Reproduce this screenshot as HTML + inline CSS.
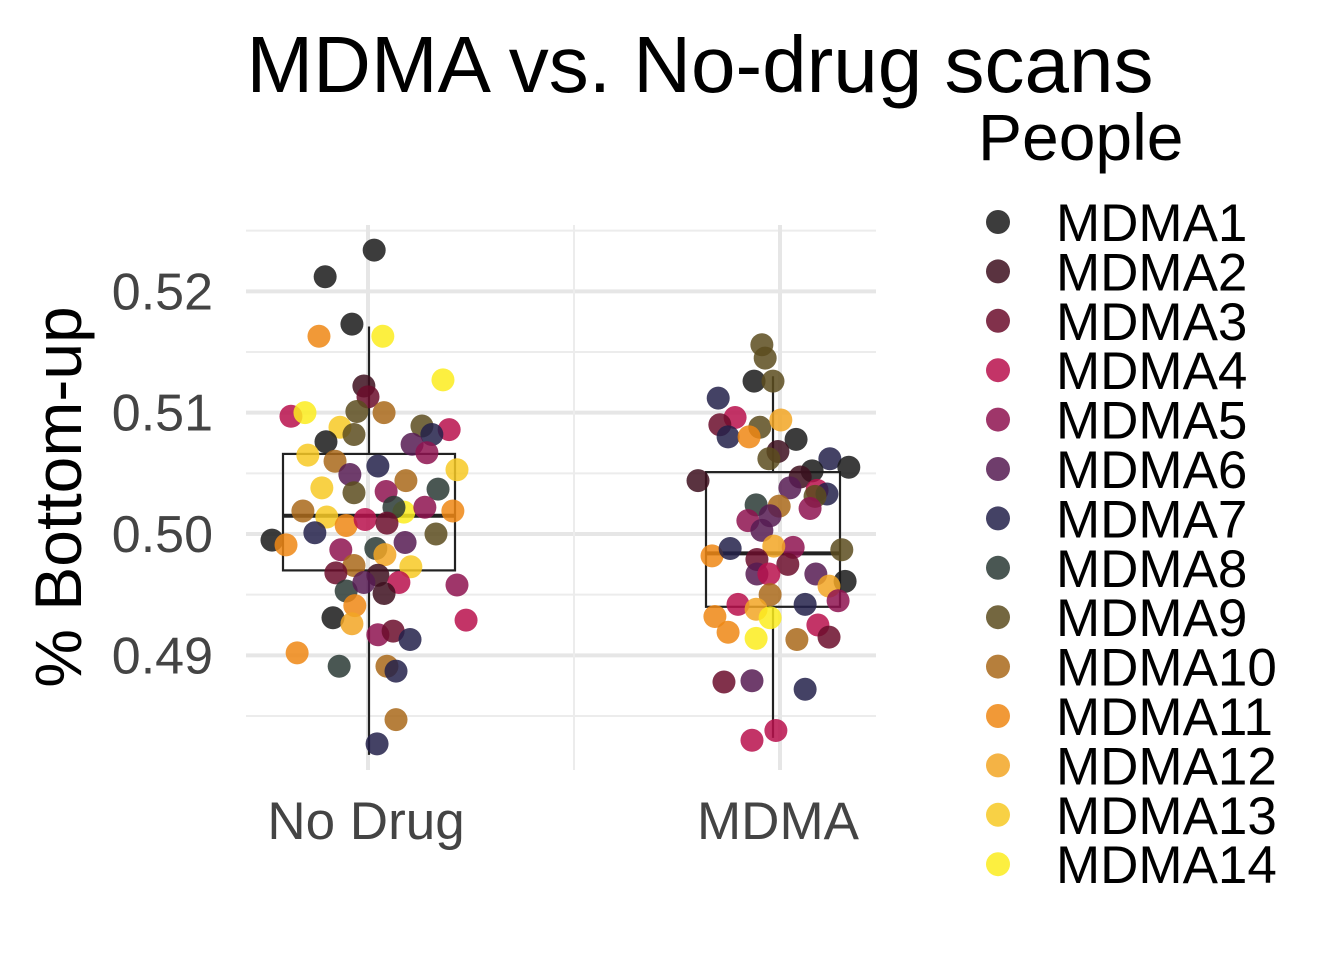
<!DOCTYPE html>
<html><head><meta charset="utf-8"><style>
html,body{margin:0;padding:0;background:#fff;}
svg{display:block;font-family:"Liberation Sans",Arial,sans-serif;}
</style></head><body>
<svg id="chart" width="1344" height="960" viewBox="0 0 1344 960">
<rect width="1344" height="960" fill="#fff"/>
<text x="700" y="92" font-size="80" text-anchor="middle" fill="#000">MDMA vs. No-drug scans</text>
<g id="grid"></g>
<g id="boxes"></g>
<g id="points"></g>
<g id="axes"></g>
<text transform="translate(81,497) rotate(-90)" font-size="66" text-anchor="middle" fill="#000">% Bottom-up</text>
<g id="legend">
<text x="978" y="160" font-size="66" fill="#000">People</text>
</g>
</svg>
<script>
const categories = ["No Drug","MDMA"];
const yTicks = [0.49,0.50,0.51,0.52];
const yTickLabels = ["0.49","0.50","0.51","0.52"];
const people = ["MDMA1","MDMA2","MDMA3","MDMA4","MDMA5","MDMA6","MDMA7","MDMA8","MDMA9","MDMA10","MDMA11","MDMA12","MDMA13","MDMA14"];
const personColors = ["#1a1a1a","#3d0f1f","#6b0d2c","#b8104c","#8e1350","#561b52","#23214a","#2a3a35","#5c4c1e","#a9691a","#ee8714","#f2a624","#f7c925","#fcec1f"];

const noDrugValues = [.5234,.5212,.5173,.5163,.5163,.5127,.5122,.5113,.5097,.5100,.5100,.5101,.5089,.5086,.5088,.5082,.5076,.5082,.5074,.5067,.5065,.5060,.5056,.5053,.5049,.5044,.5038,.5037,.5034,.5035,.5019,.5014,.5018,.5019,.5022,.5022,.5007,.5012,.5009,.5000,.4995,.4991,.5001,.4987,.4988,.4993,.4983,.4973,.4974,.4968,.4966,.4960,.4958,.4953,.4951,.4960,.4941,.4931,.4926,.4929,.4917,.4920,.4913,.4902,.4891,.4891,.4887,.4847,.4827];
const noDrugPeople = [1,1,1,11,14,14,2,3,4,14,10,9,9,4,13,7,1,9,6,5,13,10,7,13,6,10,13,8,9,5,10,13,14,11,5,8,11,4,3,9,1,11,7,5,8,6,12,13,10,3,2,4,5,8,2,6,11,1,12,4,5,3,7,11,10,8,7,10,7];
const noDrugJitter = [.015,-.104,-.039,-.119,.036,.182,-.010,0,-.187,-.153,.039,-.027,.131,.197,-.068,.155,-.102,-.034,.107,.143,-.146,-.080,.024,.216,-.044,.092,-.112,.170,-.034,.044,-.158,-.100,.087,.206,.138,.063,-.053,-.007,.046,.165,-.233,-.199,-.129,-.066,.019,.090,.041,.104,-.034,-.078,.024,.075,.216,-.053,.039,-.010,-.032,-.085,-.039,.238,.024,.061,.102,-.172,.046,-.070,.068,.068,.022];

const mdmaValues = [.5156,.5145,.5126,.5126,.5112,.5096,.5090,.5088,.5094,.5080,.5080,.5078,.5068,.5062,.5062,.5055,.5052,.5047,.5038,.5044,.5036,.5033,.5031,.5024,.5023,.5015,.5011,.5021,.5003,.4989,.4990,.4987,.4982,.4988,.4979,.4975,.4967,.4967,.4967,.4961,.4957,.4950,.4945,.4942,.4938,.4942,.4932,.4931,.4925,.4915,.4919,.4914,.4913,.4878,.4879,.4872,.4838,.4830];
const mdmaPeople = [9,9,1,9,7,4,3,9,12,7,11,1,2,9,7,1,1,2,6,2,4,7,9,8,10,6,5,5,6,5,12,9,11,7,3,3,6,4,6,1,12,10,5,4,12,7,11,14,4,3,11,14,10,3,6,7,4,4];
const mdmaJitter = [-.044,-.036,-.063,-.017,-.150,-.109,-.146,-.049,.002,-.126,-.075,.039,-.005,-.027,.121,.167,.078,.049,.024,-.199,.090,.114,.085,-.058,-.002,-.024,-.078,.073,-.044,.032,-.015,.150,-.165,-.121,-.056,.019,-.056,-.027,.087,.158,.119,-.024,.141,-.102,-.058,.061,-.158,-.024,.092,.119,-.126,-.058,.041,-.136,-.068,.061,-.010,-.068];

// box stats: [lowerWhisker, q1, median, q3, upperWhisker]
const noDrugBox = [0.4818,0.4970,0.5015,0.5066,0.5171];
const mdmaBox = [0.4832,0.4940,0.4984,0.5051,0.5130];

const NS="http://www.w3.org/2000/svg";
function el(tag,attrs,parent){const e=document.createElementNS(NS,tag);for(const k in attrs)e.setAttribute(k,attrs[k]);parent.appendChild(e);return e;}
const yScale = v => 534 - (v-0.50)*12133;
const xScale = c => 368 + c*412;
const L=246,R=876,T=225,B=770;
const grid=document.getElementById('grid');
for(let i=0;i<yTicks.length;i++){
  const g=el('line',{x1:L,x2:R,y1:yScale(yTicks[i]),y2:yScale(yTicks[i]),stroke:'#e6e6e6','stroke-width':4},grid);
  
  
}
for(let v=0.485;v<0.526;v+=0.01){
  const g=el('line',{x1:L,x2:R,y1:yScale(v),y2:yScale(v),stroke:'#ececec','stroke-width':2},grid);
  
  
}
const vm=el('line',{x1:xScale(0.5),x2:xScale(0.5),y1:T,y2:B,stroke:'#ececec','stroke-width':2},grid);


for(let c=0;c<categories.length;c++){
  const g=el('line',{x1:xScale(c),x2:xScale(c),y1:T,y2:B,stroke:'#e6e6e6','stroke-width':4},grid);
  
  
}
const boxes=document.getElementById('boxes');
function drawBox(c,s,halfW,shift){
  const x=xScale(c)+shift;
  const w1=el('line',{x1:x,x2:x,y1:yScale(s[3]),y2:yScale(s[4]),stroke:'#222','stroke-width':2.2},boxes);
  
  
  const w2=el('line',{x1:x,x2:x,y1:yScale(s[1]),y2:yScale(s[0]),stroke:'#222','stroke-width':2.2},boxes);
  
  
  const r=el('rect',{x:x-halfW,y:yScale(s[3]),width:2*halfW,height:yScale(s[1])-yScale(s[3]),fill:'none',stroke:'#222','stroke-width':2.2},boxes);
  
  
  const m=el('line',{x1:x-halfW,x2:x+halfW,y1:yScale(s[2]),y2:yScale(s[2]),stroke:'#222','stroke-width':4},boxes);
  
  
}
drawBox(0,noDrugBox,86,1);
drawBox(1,mdmaBox,67,-7);
const pts=document.getElementById('points');
function drawPoints(c,vals,ppl,jit){
  const n=Math.min(vals.length,ppl.length,jit.length);
  for(let i=0;i<n;i++){
    const p=el('circle',{cx:xScale(c+jit[i]),cy:yScale(vals[i]),r:11.5,fill:personColors[ppl[i]-1],'fill-opacity':0.85},pts);
    
    
  }
}
drawPoints(0,noDrugValues,noDrugPeople,noDrugJitter);
drawPoints(1,mdmaValues,mdmaPeople,mdmaJitter);
const axes=document.getElementById('axes');
for(let i=0;i<yTicks.length;i++){
  const t=el('text',{x:213,y:yScale(yTicks[i])+18,'font-size':52,'text-anchor':'end',fill:'#444'},axes);
  t.textContent=yTickLabels[i];
  
  
}
for(let c=0;c<categories.length;c++){
  const t=el('text',{x:xScale(c)-2,y:839,'font-size':53,'text-anchor':'middle',fill:'#444'},axes);
  t.textContent=categories[c];
  
  
}
const leg=document.getElementById('legend');
for(let i=0;i<people.length;i++){
  const y=222+i*49.4;
  const d=el('circle',{cx:998,cy:y,r:12,fill:personColors[i],'fill-opacity':0.85},leg);
  
  
  const t=el('text',{x:1056,y:y+19,'font-size':53,fill:'#000'},leg);
  t.textContent=people[i];
  
  
}
</script>
</body></html>
